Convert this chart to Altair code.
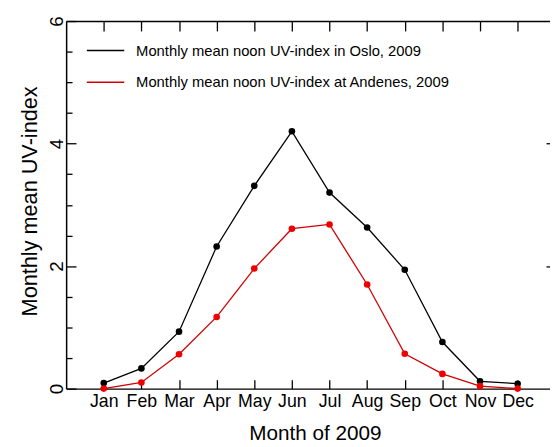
import json
import altair as alt
import pandas as pd

months = ["Jan", "Feb", "Mar", "Apr", "May", "Jun", "Jul", "Aug", "Sep", "Oct", "Nov", "Dec"]
month_num = list(range(1, 13))
oslo = [0.09, 0.33, 0.93, 2.32, 3.31, 4.20, 3.20, 2.63, 1.94, 0.76, 0.12, 0.08]
andenes = [0.00, 0.10, 0.56, 1.17, 1.96, 2.61, 2.68, 1.70, 0.57, 0.24, 0.04, 0.00]
series_names = ["Monthly mean noon UV-index in Oslo, 2009",
                "Monthly mean noon UV-index at Andenes, 2009"]
y_major = [0, 2, 4, 6]
y_minor = [0.5, 1, 1.5, 2.5, 3, 3.5, 4.5, 5, 5.5]
y_right = [2, 4]

rows = []
for name, vals in zip(series_names, [oslo, andenes]):
    for m, lab, v in zip(month_num, months, vals):
        rows.append({"m": m, "month": lab, "v": v, "series": name})
df = pd.DataFrame(rows)

xscale = alt.Scale(domain=[0, 12.86], nice=False, zero=False)
yscale = alt.Scale(domain=[0, 6], nice=False, zero=False)
label_expr = json.dumps(months) + "[datum.value - 1]"

base = alt.Chart(df)
FONT = "Liberation Sans"

lines = base.mark_line(strokeWidth=1.3).encode(
    x=alt.X("m:Q", scale=xscale, axis=alt.Axis(
        orient="bottom", values=month_num, labelExpr=label_expr, domain=True,
        domainColor="black", domainWidth=1.5, ticks=False, grid=False,
        labelFontSize=18, labelPadding=18, labelBaseline="alphabetic",
        labelFlush=False, labelOverlap=False, labelColor="black",
        title="Month of 2009", titleFontSize=21, titleFontWeight="normal",
        titleX=252.5, titleY=52, titleBaseline="alphabetic", titleAlign="center",
        titleColor="black")),
    y=alt.Y("v:Q", scale=yscale, axis=alt.Axis(
        orient="left", values=y_major, domain=True, domainColor="black",
        domainWidth=1.5, ticks=False, grid=False, labelAngle=270,
        labelAlign="center", labelBaseline="alphabetic", labelPadding=4,
        labelFontSize=19, labelFlush=False, labelColor="black",
        title="Monthly mean UV-index", titleFontSize=22, titleFontWeight="normal",
        titleAngle=270, titleX=-30, titleY=182.5, titleAlign="center",
        titleBaseline="alphabetic", titleColor="black")),
    color=alt.Color("series:N", scale=alt.Scale(domain=series_names, range=["black", "#d00000"]),
                    legend=alt.Legend(orient="none", legendX=20, legendY=10, title=None,
                                      symbolType="stroke", symbolSize=1444,
                                      symbolStrokeWidth=1.5, labelFontSize=15,
                                      labelOffset=11, rowPadding=4, padding=0,
                                      labelLimit=0,
                                      labelColor="black", labelFont=FONT)),
)

points = base.mark_circle(size=45, opacity=1).encode(
    x=alt.X("m:Q", scale=xscale, axis=None),
    y=alt.Y("v:Q", scale=yscale, axis=None),
    color=alt.Color("series:N", scale=alt.Scale(domain=series_names, range=["black", "#ee0000"]),
                    legend=None),
)

def tick_layer(channel, **axis_kw):
    common = dict(domain=False, labels=False, grid=False, title=None,
                  tickColor="black", tickWidth=1.3)
    common.update(axis_kw)
    if channel == "x":
        enc = dict(x=alt.X("m:Q", scale=xscale, axis=alt.Axis(**common)),
                   y=alt.Y("v:Q", scale=yscale, axis=None))
    else:
        enc = dict(x=alt.X("m:Q", scale=xscale, axis=None),
                   y=alt.Y("v:Q", scale=yscale, axis=alt.Axis(**common)))
    return base.mark_point(opacity=0).encode(**enc)

bottom_ticks = tick_layer("x", orient="bottom", values=month_num, offset=-9, tickSize=9)
top_ticks = tick_layer("x", orient="top", values=month_num, offset=-10, tickSize=10)
top_frame = tick_layer("x", orient="top", values=month_num, ticks=False, domain=True,
                       domainColor="black", domainWidth=1.5)
left_major = tick_layer("y", orient="left", values=y_major, offset=-10, tickSize=10)
left_minor = tick_layer("y", orient="left", values=y_minor, offset=-6, tickSize=6)
right_ticks = tick_layer("y", orient="right", values=y_right, offset=-4, tickSize=4)

chart = alt.layer(
    lines, points, bottom_ticks, top_ticks, top_frame, left_major, left_minor, right_ticks
).resolve_axis(x="independent", y="independent").resolve_scale(
    color="independent"
).properties(
    width=491, height=373,
    autosize=alt.AutoSizeParams(type="none"),
    padding={"left": 59, "top": 10, "right": 0, "bottom": 56},
).configure(font=FONT).configure_view(stroke=None)

chart.save("out.html", embed_options={"renderer": "svg", "actions": False})
